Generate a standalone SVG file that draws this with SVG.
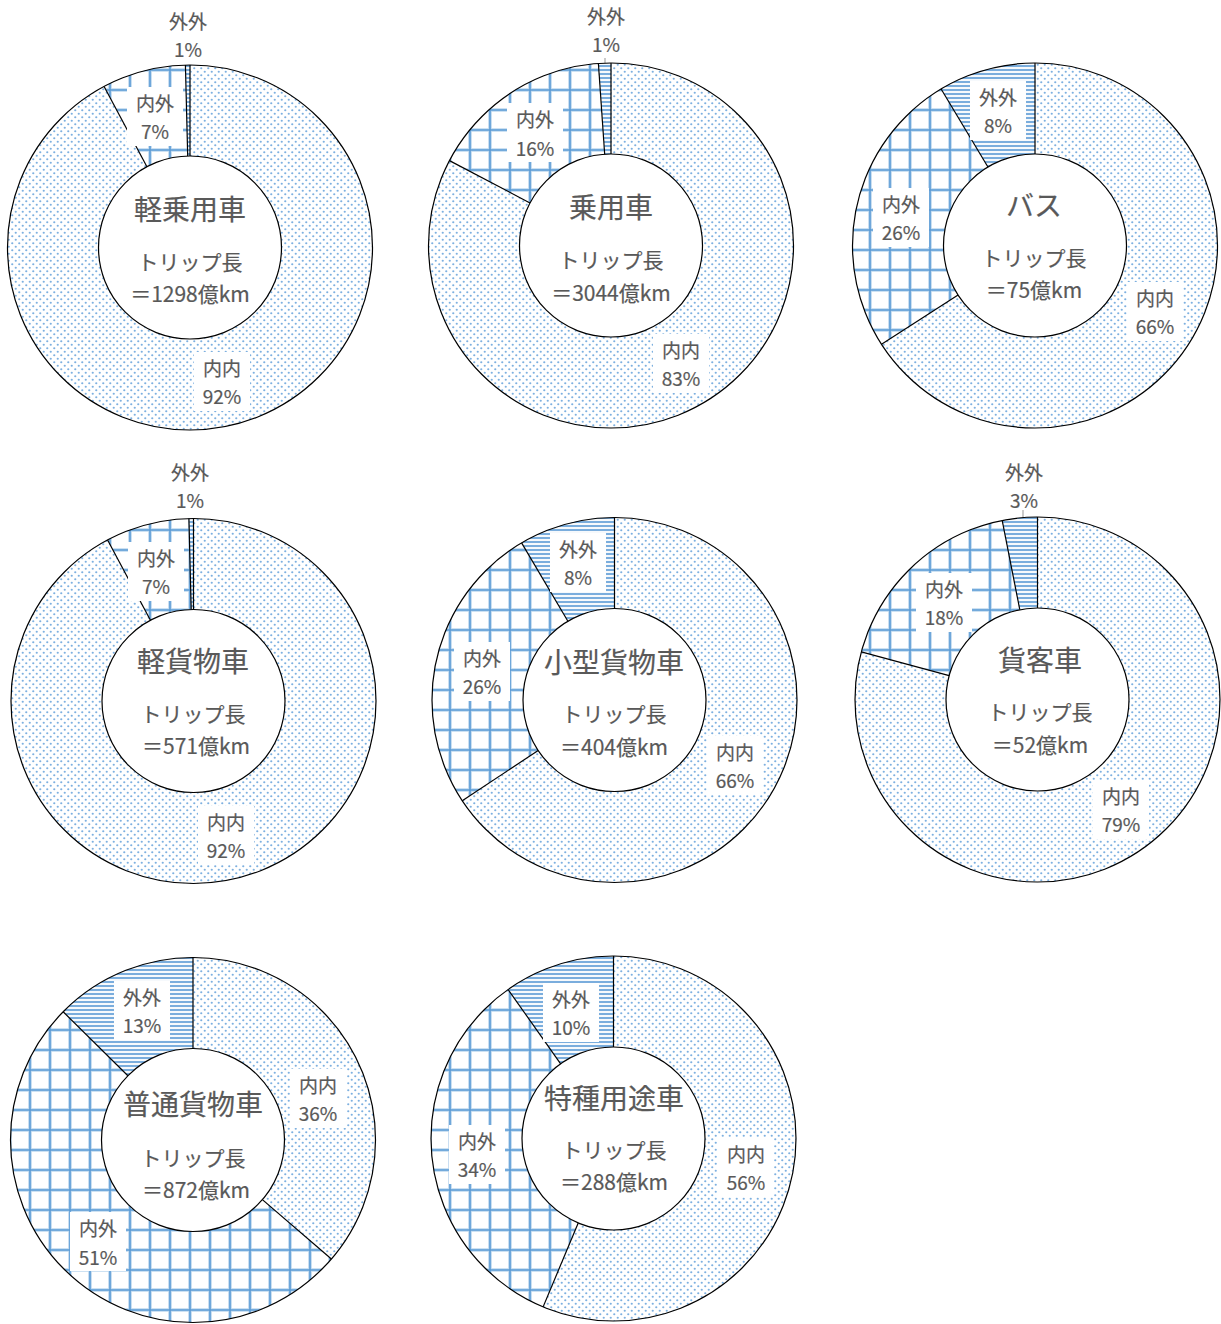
<svg xmlns="http://www.w3.org/2000/svg" width="1221" height="1324" viewBox="0 0 1221 1324">
<defs>
<pattern id="dots" width="7" height="7" patternUnits="userSpaceOnUse"><rect width="7" height="7" fill="#fff"/><circle cx="1.75" cy="1.75" r="1.1" fill="#7DB0E0"/><circle cx="5.25" cy="5.25" r="1.1" fill="#7DB0E0"/></pattern>
<pattern id="grid" width="20" height="20" patternUnits="userSpaceOnUse"><rect width="20" height="20" fill="#fff"/><path d="M10 0V20M0 10H20" stroke="#BDD7EE" stroke-width="3.6"/><path d="M10 0V20M0 10H20" stroke="#5B9BD5" stroke-width="1.6"/></pattern>
<pattern id="hl" width="8" height="4" patternUnits="userSpaceOnUse"><rect width="8" height="4" fill="#fff"/><rect y="0.9" width="8" height="2.2" fill="#A9C8EA"/><rect y="1.4" width="8" height="1.2" fill="#5B9BD5"/></pattern>
</defs>
<style>
.ring{fill:none;stroke-width:91}
.dots{stroke:url(#dots)}
.grid{stroke:url(#grid)}
.hl{stroke:url(#hl)}
.outer{fill:none;stroke:#000;stroke-width:1.2}
.inner{fill:#fff;stroke:#000;stroke-width:1.2}
.sep{stroke:#000;stroke-width:1.2}
.box{fill:#fff}
text{font-family:"Noto Sans CJK JP","Noto Sans",sans-serif;fill:#595959;stroke:#595959;stroke-width:0.2;text-anchor:middle;dominant-baseline:central}
.lbl{font-size:19px}
.ttl{font-size:28px}
.sub{font-size:21px}
.lead{stroke:#A6A6A6;stroke-width:1.2}
</style>
<rect width="1221" height="1324" fill="#fff"/>

<g id="connectors">
<line class="lead" x1="605" y1="58" x2="605" y2="110"/>
<line class="lead" x1="1023" y1="510" x2="1023" y2="563"/>
</g>

<!-- Chart 1 -->
<g id="chart-kei-jouyousha">
<circle class="ring dots" cx="190" cy="247.5" r="137"/>
<circle class="ring grid" cx="190" cy="247.5" r="137" stroke-dasharray="63.70 2000" stroke-dashoffset="-578.45"/>
<circle class="ring hl" cx="190" cy="247.5" r="137" stroke-dasharray="3.44 2000" stroke-dashoffset="-642.15"/>
<circle class="outer" cx="190" cy="247.5" r="182.5"/>
<circle class="inner" cx="190" cy="247.5" r="91.5"/>
<g transform="translate(190,247.5)"><line class="sep" x1="0" y1="-91.5" x2="0" y2="-182.5"/><line class="sep" x1="0" y1="-91.5" x2="0" y2="-182.5" transform="rotate(331.92)"/><line class="sep" x1="0" y1="-91.5" x2="0" y2="-182.5" transform="rotate(358.56)"/></g>
<text class="lbl" x="188" y="20">外外</text><text class="lbl" x="188" y="48">1%</text>
<rect class="box" x="127" y="87" width="56" height="59"/><text class="lbl" x="155" y="102">内外</text><text class="lbl" x="155" y="130">7%</text>
<rect class="box" x="194" y="352" width="56" height="59"/><text class="lbl" x="222" y="367">内内</text><text class="lbl" x="222" y="395">92%</text>
<text class="ttl" x="190" y="208">軽乗用車</text><text class="sub" x="190" y="261">トリップ長</text><text class="sub" x="190" y="293">＝1298億km</text>
</g>

<!-- Chart 2 -->
<g id="chart-jouyousha">
<circle class="ring dots" cx="611" cy="245.5" r="137"/>
<circle class="ring grid" cx="611" cy="245.5" r="137" stroke-dasharray="139.45 2000" stroke-dashoffset="-496.68"/>
<circle class="ring hl" cx="611" cy="245.5" r="137" stroke-dasharray="9.47 2000" stroke-dashoffset="-636.13"/>
<circle class="outer" cx="611" cy="245.5" r="182.5"/>
<circle class="inner" cx="611" cy="245.5" r="91.5"/>
<g transform="translate(611,245.5)"><line class="sep" x1="0" y1="-91.5" x2="0" y2="-182.5"/><line class="sep" x1="0" y1="-91.5" x2="0" y2="-182.5" transform="rotate(297.72)"/><line class="sep" x1="0" y1="-91.5" x2="0" y2="-182.5" transform="rotate(356.04)"/></g>
<text class="lbl" x="606" y="15">外外</text><text class="lbl" x="606" y="43">1%</text>
<rect class="box" x="507" y="103" width="56" height="59"/><text class="lbl" x="535" y="118">内外</text><text class="lbl" x="535" y="147">16%</text>
<rect class="box" x="653" y="334" width="56" height="59"/><text class="lbl" x="681" y="349">内内</text><text class="lbl" x="681" y="377">83%</text>
<text class="ttl" x="611" y="206">乗用車</text><text class="sub" x="611" y="259">トリップ長</text><text class="sub" x="611" y="292">＝3044億km</text>
</g>

<!-- Chart 3 -->
<g id="chart-bus">
<circle class="ring dots" cx="1035" cy="245.5" r="137"/>
<circle class="ring grid" cx="1035" cy="245.5" r="137" stroke-dasharray="219.50 2000" stroke-dashoffset="-352.07"/>
<circle class="ring hl" cx="1035" cy="245.5" r="137" stroke-dasharray="74.03 2000" stroke-dashoffset="-571.57"/>
<circle class="outer" cx="1035" cy="245.5" r="182.5"/>
<circle class="inner" cx="1035" cy="245.5" r="91.5"/>
<g transform="translate(1035,245.5)"><line class="sep" x1="0" y1="-91.5" x2="0" y2="-182.5"/><line class="sep" x1="0" y1="-91.5" x2="0" y2="-182.5" transform="rotate(237.24)"/><line class="sep" x1="0" y1="-91.5" x2="0" y2="-182.5" transform="rotate(329.04)"/></g>
<rect class="box" x="970" y="81" width="56" height="59"/><text class="lbl" x="998" y="96">外外</text><text class="lbl" x="998" y="124">8%</text>
<rect class="box" x="873" y="188" width="56" height="59"/><text class="lbl" x="901" y="203">内外</text><text class="lbl" x="901" y="231">26%</text>
<rect class="box" x="1127" y="282" width="56" height="59"/><text class="lbl" x="1155" y="297">内内</text><text class="lbl" x="1155" y="325">66%</text>
<text class="ttl" x="1034" y="204">バス</text><text class="sub" x="1034" y="257">トリップ長</text><text class="sub" x="1034" y="289">＝75億km</text>
</g>

<!-- Chart 4 -->
<g id="chart-kei-kamotsusha">
<circle class="ring dots" cx="193.5" cy="701" r="137"/>
<circle class="ring grid" cx="193.5" cy="701" r="137" stroke-dasharray="63.70 2000" stroke-dashoffset="-578.45"/>
<circle class="ring hl" cx="193.5" cy="701" r="137" stroke-dasharray="3.44 2000" stroke-dashoffset="-642.15"/>
<circle class="outer" cx="193.5" cy="701" r="182.5"/>
<circle class="inner" cx="193.5" cy="701" r="91.5"/>
<g transform="translate(193.5,701)"><line class="sep" x1="0" y1="-91.5" x2="0" y2="-182.5"/><line class="sep" x1="0" y1="-91.5" x2="0" y2="-182.5" transform="rotate(331.92)"/><line class="sep" x1="0" y1="-91.5" x2="0" y2="-182.5" transform="rotate(358.56)"/></g>
<text class="lbl" x="190" y="471">外外</text><text class="lbl" x="190" y="499">1%</text>
<rect class="box" x="128" y="542" width="56" height="59"/><text class="lbl" x="156" y="557">内外</text><text class="lbl" x="156" y="585">7%</text>
<rect class="box" x="198" y="806" width="56" height="59"/><text class="lbl" x="226" y="821">内内</text><text class="lbl" x="226" y="849">92%</text>
<text class="ttl" x="193" y="660">軽貨物車</text><text class="sub" x="193" y="713">トリップ長</text><text class="sub" x="196" y="745">＝571億km</text>
</g>

<!-- Chart 5 -->
<g id="chart-kogata-kamotsusha">
<circle class="ring dots" cx="614.5" cy="700" r="137"/>
<circle class="ring grid" cx="614.5" cy="700" r="137" stroke-dasharray="222.09 2000" stroke-dashoffset="-350.34"/>
<circle class="ring hl" cx="614.5" cy="700" r="137" stroke-dasharray="73.17 2000" stroke-dashoffset="-572.43"/>
<circle class="outer" cx="614.5" cy="700" r="182.5"/>
<circle class="inner" cx="614.5" cy="700" r="91.5"/>
<g transform="translate(614.5,700)"><line class="sep" x1="0" y1="-91.5" x2="0" y2="-182.5"/><line class="sep" x1="0" y1="-91.5" x2="0" y2="-182.5" transform="rotate(236.52)"/><line class="sep" x1="0" y1="-91.5" x2="0" y2="-182.5" transform="rotate(329.4)"/></g>
<rect class="box" x="550" y="533" width="56" height="59"/><text class="lbl" x="578" y="548">外外</text><text class="lbl" x="578" y="576">8%</text>
<rect class="box" x="454" y="642" width="56" height="59"/><text class="lbl" x="482" y="657">内外</text><text class="lbl" x="482" y="685">26%</text>
<rect class="box" x="707" y="736" width="56" height="59"/><text class="lbl" x="735" y="751">内内</text><text class="lbl" x="735" y="779">66%</text>
<text class="ttl" x="614" y="661">小型貨物車</text><text class="sub" x="614" y="713">トリップ長</text><text class="sub" x="614" y="746">＝404億km</text>
</g>

<!-- Chart 6 -->
<g id="chart-kakyakusha">
<circle class="ring dots" cx="1037.5" cy="699.5" r="137"/>
<circle class="ring grid" cx="1037.5" cy="699.5" r="137" stroke-dasharray="152.36 2000" stroke-dashoffset="-466.55"/>
<circle class="ring hl" cx="1037.5" cy="699.5" r="137" stroke-dasharray="26.68 2000" stroke-dashoffset="-618.91"/>
<circle class="outer" cx="1037.5" cy="699.5" r="182.5"/>
<circle class="inner" cx="1037.5" cy="699.5" r="91.5"/>
<g transform="translate(1037.5,699.5)"><line class="sep" x1="0" y1="-91.5" x2="0" y2="-182.5"/><line class="sep" x1="0" y1="-91.5" x2="0" y2="-182.5" transform="rotate(285.12)"/><line class="sep" x1="0" y1="-91.5" x2="0" y2="-182.5" transform="rotate(348.84)"/></g>
<text class="lbl" x="1024" y="471">外外</text><text class="lbl" x="1024" y="499">3%</text>
<rect class="box" x="916" y="573" width="56" height="59"/><text class="lbl" x="944" y="588">内外</text><text class="lbl" x="944" y="616">18%</text>
<rect class="box" x="1093" y="780" width="56" height="59"/><text class="lbl" x="1121" y="795">内内</text><text class="lbl" x="1121" y="823">79%</text>
<text class="ttl" x="1040" y="659">貨客車</text><text class="sub" x="1040" y="711">トリップ長</text><text class="sub" x="1040" y="744">＝52億km</text>
</g>

<!-- Chart 7 -->
<g id="chart-futsuu-kamotsusha">
<circle class="ring dots" cx="193" cy="1140" r="137"/>
<circle class="ring grid" cx="193" cy="1140" r="137" stroke-dasharray="439.87 2000" stroke-dashoffset="-97.27"/>
<circle class="ring hl" cx="193" cy="1140" r="137" stroke-dasharray="108.46 2000" stroke-dashoffset="-537.14"/>
<circle class="outer" cx="193" cy="1140" r="182.5"/>
<circle class="inner" cx="193" cy="1140" r="91.5"/>
<g transform="translate(193,1140)"><line class="sep" x1="0" y1="-91.5" x2="0" y2="-182.5"/><line class="sep" x1="0" y1="-91.5" x2="0" y2="-182.5" transform="rotate(130.68)"/><line class="sep" x1="0" y1="-91.5" x2="0" y2="-182.5" transform="rotate(314.64)"/></g>
<rect class="box" x="114" y="981" width="56" height="59"/><text class="lbl" x="142" y="996">外外</text><text class="lbl" x="142" y="1024">13%</text>
<rect class="box" x="70" y="1212" width="56" height="59"/><text class="lbl" x="98" y="1227">内外</text><text class="lbl" x="98" y="1256">51%</text>
<rect class="box" x="290" y="1069" width="56" height="59"/><text class="lbl" x="318" y="1084">内内</text><text class="lbl" x="318" y="1112">36%</text>
<text class="ttl" x="193" y="1103">普通貨物車</text><text class="sub" x="193" y="1157">トリップ長</text><text class="sub" x="196" y="1189">＝872億km</text>
</g>

<!-- Chart 8 -->
<g id="chart-tokushu-youtosha">
<circle class="ring dots" cx="613.5" cy="1138.5" r="137"/>
<circle class="ring grid" cx="613.5" cy="1138.5" r="137" stroke-dasharray="291.81 2000" stroke-dashoffset="-269.43"/>
<circle class="ring hl" cx="613.5" cy="1138.5" r="137" stroke-dasharray="84.36 2000" stroke-dashoffset="-561.24"/>
<circle class="outer" cx="613.5" cy="1138.5" r="182.5"/>
<circle class="inner" cx="613.5" cy="1138.5" r="91.5"/>
<g transform="translate(613.5,1138.5)"><line class="sep" x1="0" y1="-91.5" x2="0" y2="-182.5"/><line class="sep" x1="0" y1="-91.5" x2="0" y2="-182.5" transform="rotate(202.68)"/><line class="sep" x1="0" y1="-91.5" x2="0" y2="-182.5" transform="rotate(324.72)"/></g>
<rect class="box" x="543" y="983" width="56" height="59"/><text class="lbl" x="571" y="998">外外</text><text class="lbl" x="571" y="1026">10%</text>
<rect class="box" x="449" y="1125" width="56" height="59"/><text class="lbl" x="477" y="1140">内外</text><text class="lbl" x="477" y="1168">34%</text>
<rect class="box" x="718" y="1138" width="56" height="59"/><text class="lbl" x="746" y="1153">内内</text><text class="lbl" x="746" y="1181">56%</text>
<text class="ttl" x="614" y="1097">特種用途車</text><text class="sub" x="614" y="1149">トリップ長</text><text class="sub" x="614" y="1181">＝288億km</text>
</g>
</svg>
